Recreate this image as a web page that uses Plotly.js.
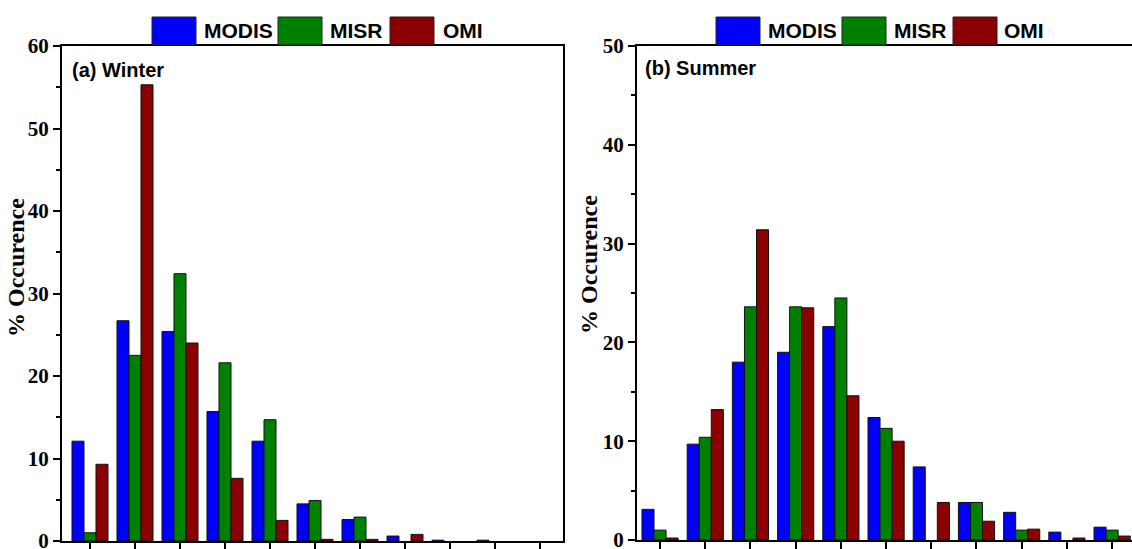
<!DOCTYPE html>
<html>
<head>
<meta charset="utf-8">
<script src="https://cdn.plot.ly/plotly-3.0.1.min.js"></script>
<style>html,body{margin:0;padding:0;background:#fff}#chart{width:1132px;height:549px}</style>
</head>
<body>
<div id="chart"></div>
<script>
// Group index (bins) – tick positions along x
const bins = [0, 1, 2, 3, 4, 5, 6, 7, 8, 9, 10];

// (a) Winter
const winterMODIS = [12.1, 26.7, 25.4, 15.7, 12.1, 4.5, 2.6, 0.6, 0.1, 0.1, 0];
const winterMISR  = [1.0, 22.5, 32.4, 21.6, 14.7, 4.9, 2.9, 0, 0, 0, 0];
const winterOMI   = [9.3, 55.3, 24.0, 7.6, 2.5, 0.2, 0.2, 0.8, 0, 0, 0];

// (b) Summer
const summerMODIS = [3.1, 9.7, 18.0, 19.0, 21.6, 12.4, 7.4, 3.8, 2.8, 0.8, 1.3];
const summerMISR  = [1.0, 10.4, 23.6, 23.6, 24.5, 11.3, 0, 3.8, 1.0, 0, 1.0];
const summerOMI   = [0.2, 13.2, 31.4, 23.5, 14.6, 10.0, 3.8, 1.9, 1.1, 0.2, 0.4];

const seriesNames = ["MODIS", "MISR", "OMI"];
const colors = ["#0000FF", "#008000", "#8B0000"];
const panelLabels = ["(a) Winter", "(b) Summer"];
const yTitle = "% Occurence";

function bar(y, i, xa, ya) {
  return {
    type: "bar", x: bins, y: y, name: seriesNames[i], xaxis: xa, yaxis: ya,
    marker: {color: colors[i], line: {color: "#111", width: y.map(v => v === 0 ? 0 : 1)}},
    showlegend: false, hoverinfo: "x+y+name"
  };
}

const data = [
  bar(winterMODIS, 0, "x", "y"), bar(winterMISR, 1, "x", "y"), bar(winterOMI, 2, "x", "y"),
  bar(summerMODIS, 0, "x2", "y2"), bar(summerMISR, 1, "x2", "y2"), bar(summerOMI, 2, "x2", "y2")
];

const W = 1132, H = 549;
const serifBold = {family: "Liberation Serif, Times New Roman, serif", size: 21, color: "#000", weight: 700};
const sansBold = {family: "Liberation Sans Narrow, Arial Narrow, Liberation Sans, Arial, sans-serif", size: 21, color: "#000", weight: 700};

function xax(domain, range, anchor) {
  return {
    domain: domain, range: range, anchor: anchor, tickvals: bins, showticklabels: false,
    ticks: "outside", ticklen: 8, tickwidth: 2, tickcolor: "#000",
    showline: true, linecolor: "#000", linewidth: 2, mirror: true,
    showgrid: false, zeroline: false, fixedrange: true
  };
}
function yax(domain, range, anchor, mirror) {
  return {
    domain: domain, range: range, anchor: anchor, dtick: 10, tick0: 0,
    ticks: "outside", ticklen: 7, tickwidth: 2, tickcolor: "#000",
    minor: {dtick: 5, tick0: 0, ticks: "outside", ticklen: 4, tickwidth: 2, tickcolor: "#000", showgrid: false},
    tickfont: serifBold, ticklabelstandoff: 0, ticklabeloverflow: "allow",
    showline: true, linecolor: "#000", linewidth: 2, mirror: mirror,
    showgrid: false, zeroline: false, fixedrange: true
  };
}

// Legend drawn as boxes + labels above each panel
const shapes = [];
const annotations = [];
function legend(boxX, textX) {
  for (let i = 0; i < 3; i++) {
    shapes.push({type: "rect", xref: "paper", yref: "paper",
      x0: boxX[i] / W, x1: (boxX[i] + 44) / W, y0: 1 - 45 / H, y1: 1 - 17 / H,
      fillcolor: colors[i], line: {color: "#222", width: 1}});
    annotations.push({xref: "paper", yref: "paper", x: textX[i] / W, y: 1 - 31 / H,
      xanchor: "left", yanchor: "middle", text: seriesNames[i], showarrow: false, font: sansBold});
  }
}
legend([152, 278, 390], [202, 328, 441]);
legend([716, 842, 953], [766, 892, 1002]);

annotations.push({xref: "paper", yref: "paper", x: 70 / W, y: 1 - 70 / H, xanchor: "left", yanchor: "middle",
  text: panelLabels[0], showarrow: false, font: {...sansBold, size: 20}});
annotations.push({xref: "paper", yref: "paper", x: 643 / W, y: 1 - 68 / H, xanchor: "left", yanchor: "middle",
  text: panelLabels[1], showarrow: false, font: {...sansBold, size: 20}});

// Y-axis titles
const titleFont = {family: "Liberation Serif, Times New Roman, serif", size: 24, color: "#000", weight: 700};
annotations.push({xref: "paper", yref: "paper", x: 16 / W, y: 1 - 268 / H, xanchor: "center", yanchor: "middle",
  text: yTitle, textangle: -90, showarrow: false, font: titleFont});
annotations.push({xref: "paper", yref: "paper", x: 589 / W, y: 1 - 265 / H, xanchor: "center", yanchor: "middle",
  text: yTitle, textangle: -90, showarrow: false, font: titleFont});

const layout = {
  width: W, height: H,
  margin: {l: 0, r: 0, t: 0, b: 0},
  paper_bgcolor: "#fff", plot_bgcolor: "#fff",
  barmode: "group", bargap: 0.2, bargroupgap: 0,
  showlegend: false,
  xaxis: xax([62 / W, 563 / W], [-0.622, 10.511], "y"),
  yaxis: yax([8 / H, 1 - 46 / H], [0, 60], "x", true),
  xaxis2: xax([637 / W, 1], [-0.51, 10.44], "y2"),
  yaxis2: yax([9 / H, 1 - 46 / H], [0, 50], "x2", false),
  shapes: shapes, annotations: annotations
};

Plotly.newPlot("chart", data, layout, {displayModeBar: false, staticPlot: true});
</script>
</body>
</html>
